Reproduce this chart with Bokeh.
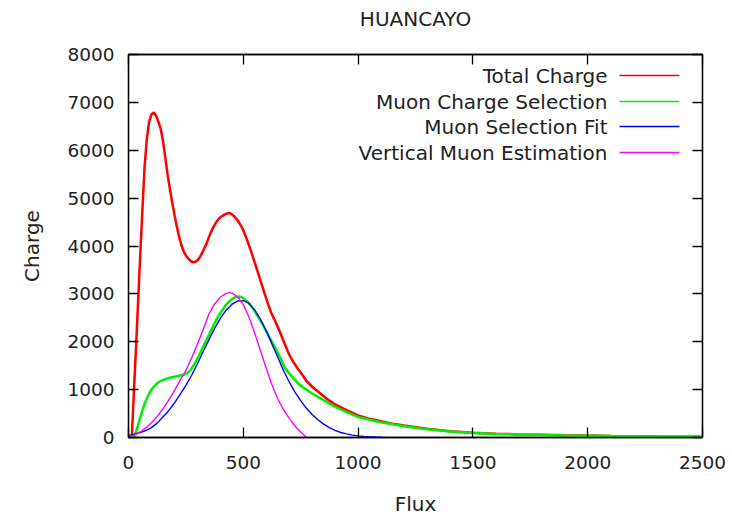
from bokeh.plotting import figure
from bokeh.models import (LinearAxis, FixedTicker, Label, BoxAnnotation, Range1d,
                          ColumnDataSource, CustomLabelingPolicy)
from bokeh.embed import file_html
from bokeh.resources import INLINE

# ---------------- data ----------------
x_ticks = [0, 500, 1000, 1500, 2000, 2500]
y_ticks = [0, 1000, 2000, 3000, 4000, 5000, 6000, 7000, 8000]

series_names = ["Total Charge", "Muon Charge Selection", "Muon Selection Fit", "Vertical Muon Estimation"]
series_colors = ["#ff0000", "#00ee00", "#0000ff", "#ff00ff"]

total_x = [0, 10, 15, 20, 30, 40, 50, 60, 70, 80, 90, 100, 110, 120, 130, 140, 150, 160, 170, 180,
           190, 200, 210, 220, 230, 240, 250, 260, 270, 280, 290, 300, 310, 320, 330, 340, 350, 360, 370, 380,
           390, 400, 410, 420, 430, 440, 450, 460, 470, 480, 490, 500, 520, 540, 560, 580, 600, 620, 640, 660,
           680, 700, 720, 740, 760, 775, 800, 825, 850, 875, 900, 950, 1000, 1050, 1100, 1150, 1200, 1300, 1400, 1500,
           1600, 1700, 1800, 1900, 2000, 2100, 2200, 2300, 2400, 2500]
total_y = [0, 0, 50, 600, 1600, 2650, 3700, 4700, 5650, 6250, 6600, 6750, 6790, 6720, 6600, 6450, 6200, 5850, 5500, 5200,
           4920, 4660, 4420, 4200, 4020, 3890, 3800, 3740, 3690, 3665, 3665, 3700, 3760, 3850, 3950, 4050, 4180, 4300, 4400, 4480,
           4550, 4600, 4630, 4660, 4680, 4690, 4660, 4620, 4570, 4500, 4420, 4330, 4080, 3800, 3500, 3200, 2900, 2620, 2420, 2200,
           1960, 1730, 1560, 1420, 1290, 1180, 1060, 960, 860, 770, 690, 570, 460, 390, 340, 290, 250, 185, 130, 100,
           80, 65, 55, 45, 40, 32, 28, 22, 18, 15]

muon_x = [0, 10, 20, 30, 40, 50, 60, 70, 80, 90, 100, 110, 120, 130, 140, 150, 160, 170, 180, 190,
          200, 210, 220, 230, 240, 250, 260, 270, 280, 290, 300, 310, 320, 330, 340, 350, 360, 370, 380, 390,
          400, 410, 420, 430, 440, 450, 460, 470, 480, 490, 500, 520, 540, 560, 580, 600, 620, 640, 660, 680,
          700, 720, 740, 760, 775, 800, 825, 850, 875, 900, 950, 1000, 1050, 1100, 1150, 1200, 1300, 1400, 1500, 1600,
          1700, 1800, 1900, 2000, 2100, 2200, 2300, 2400, 2500]
muon_y = [0, 0, 20, 80, 230, 400, 560, 700, 820, 920, 1000, 1060, 1110, 1150, 1180, 1200, 1220, 1235, 1250, 1260,
          1270, 1280, 1290, 1300, 1310, 1330, 1360, 1410, 1480, 1560, 1650, 1740, 1840, 1940, 2040, 2140, 2240, 2340, 2430, 2520,
          2600, 2670, 2740, 2800, 2850, 2890, 2920, 2940, 2945, 2935, 2910, 2830, 2710, 2560, 2400, 2220, 2040, 1860, 1680, 1460,
          1340, 1230, 1120, 1050, 1000, 920, 850, 780, 710, 640, 530, 430, 370, 320, 275, 235, 170, 125, 95, 75,
          62, 52, 44, 38, 30, 26, 20, 16, 14]

fit_x = [0, 25, 50, 75, 100, 125, 150, 175, 200, 225, 250, 275, 300, 325, 350, 375, 400, 425, 450, 475,
         500, 525, 550, 575, 600, 625, 650, 675, 700, 725, 750, 775, 800, 825, 850, 875, 900, 925, 950, 975,
         1000, 1025, 1050, 1075, 1100, 1120]
fit_y = [45, 68, 101, 146, 207, 300, 430, 560, 720, 900, 1090, 1300, 1540, 1790, 2040, 2280, 2490, 2660, 2780, 2850,
         2860, 2800, 2660, 2470, 2230, 1950, 1680, 1400, 1160, 950, 770, 610, 480, 370, 280, 205, 150, 105, 75, 50,
         33, 22, 14, 9, 5, 3]

vert_x = [0, 25, 50, 75, 100, 125, 150, 175, 200, 225, 250, 275, 300, 325, 350, 375, 400, 425, 440, 450,
          475, 500, 525, 550, 575, 600, 625, 650, 675, 700, 725, 750, 765, 776]
vert_y = [20, 50, 110, 200, 310, 440, 600, 780, 980, 1200, 1400, 1660, 1950, 2250, 2580, 2790, 2930, 3010, 3025, 3015,
          2940, 2780, 2510, 2180, 1810, 1440, 1100, 810, 580, 400, 240, 115, 45, 0]

# ---------------- styling ----------------
FONT = "DejaVu Sans"
FS_TICK = "18.5px"
FS = "20px"
TXT = "#222222"

p = figure(width=732, height=518, x_range=Range1d(0, 2500), y_range=Range1d(0, 8000),
           output_backend="svg", toolbar_location=None,
           min_border_left=128, min_border_right=30, min_border_top=54, min_border_bottom=79)
p.background_fill_color = "white"
p.border_fill_color = "white"
p.grid.visible = False
p.outline_line_color = "black"
p.outline_line_width = 1.3

p.title.text = "HUANCAYO"
p.title.align = "center"
p.title.vertical_align = "top"
p.title.text_font = FONT
p.title.text_font_size = FS
p.title.text_font_style = "normal"
p.title.text_color = TXT
p.title.standoff = 12

no_labels = CustomLabelingPolicy(code="return new Set()")


def style_axis(ax, ticks, show_labels=True, reserve=False):
    ax.ticker = FixedTicker(ticks=ticks)
    ax.major_tick_in = 10
    ax.major_tick_out = 0
    ax.minor_tick_in = 0
    ax.minor_tick_out = 0
    ax.axis_line_color = "black"
    ax.axis_line_width = 1.3
    ax.major_tick_line_color = "black"
    ax.major_tick_line_width = 1.3
    ax.major_label_text_font = FONT
    ax.major_label_text_color = TXT
    ax.major_label_text_font_size = FS_TICK
    ax.axis_label_text_font = FONT
    ax.axis_label_text_font_size = FS
    ax.axis_label_text_font_style = "normal"
    ax.axis_label_text_color = TXT
    if not show_labels:
        ax.major_label_policy = no_labels
        ax.major_label_standoff = 0
        if not reserve:
            ax.major_label_text_font_size = "0px"


style_axis(p.xaxis[0], x_ticks)
style_axis(p.yaxis[0], y_ticks)
p.xaxis[0].axis_label = "Flux"
p.yaxis[0].axis_label = "Charge"
p.xaxis[0].major_label_standoff = 18
p.yaxis[0].major_label_standoff = 14
p.xaxis[0].axis_label_standoff = 20
p.yaxis[0].axis_label_standoff = 20

# mirrored ticks (gnuplot border style); the top one keeps a little room for the title gap
top_ax = LinearAxis()
style_axis(top_ax, x_ticks, show_labels=False, reserve=True)
p.add_layout(top_ax, "above")
right_ax = LinearAxis()
style_axis(right_ax, y_ticks, show_labels=False)
p.add_layout(right_ax, "right")

# ---------------- curves ----------------
curves = [(total_x, total_y, 2.5), (muon_x, muon_y, 2.5), (fit_x, fit_y, 1.4), (vert_x, vert_y, 1.4)]
for (xs, ys, lw), color in zip(curves, series_colors):
    src = ColumnDataSource(dict(x=xs, y=ys))
    p.line("x", "y", source=src, line_color=color, line_width=lw)

# ---------------- legend (gnuplot style: text then sample) ----------------
row_y = [362, 336, 311, 285]
for name, color, yy in zip(series_names, series_colors, row_y):
    p.add_layout(Label(x=479, y=yy, x_units="screen", y_units="screen", text=name,
                       text_align="right", text_baseline="middle", text_font=FONT,
                       text_font_size=FS, text_color=TXT))
    p.add_layout(BoxAnnotation(left=491, right=551, bottom=yy - 0.7, top=yy + 0.7,
                               left_units="screen", right_units="screen",
                               bottom_units="screen", top_units="screen",
                               fill_color=color, fill_alpha=1.0, line_color=None))

open("out.html", "w").write(file_html(p, INLINE))
